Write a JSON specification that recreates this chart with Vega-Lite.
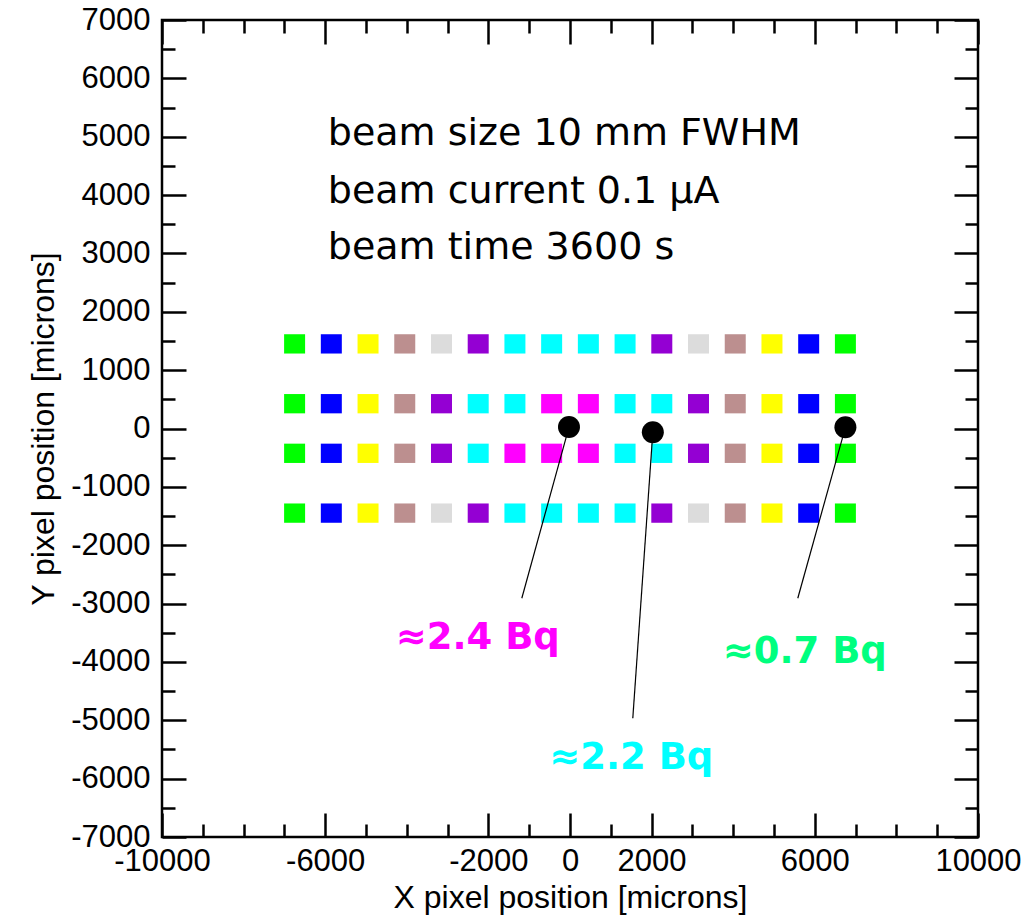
{
  "$schema": "https://vega.github.io/schema/vega-lite/v6.json",
  "width": 816,
  "height": 817,
  "autosize": "none",
  "padding": {"left": 162, "top": 20, "right": 52, "bottom": 80},
  "background": "white",
  "config": {
    "view": {"stroke": "black", "strokeWidth": 2.5},
    "axis": {"grid": false, "domain": false, "tickColor": "black", "tickWidth": 2.5, "labelColor": "black", "titleColor": "black", "labelFont": "Liberation Sans", "titleFont": "Liberation Sans", "labelFontSize": 31, "titleFontSize": 32, "titleFontWeight": "normal", "labelFlush": false, "labelOverlap": false}
  },
  "datasets": {
    "squares": [
      {"x": -6750, "y": 1450, "c": "#00ff00"}, {"x": -5850, "y": 1450, "c": "#0000ff"}, {"x": -4950, "y": 1450, "c": "#ffff00"}, {"x": -4050, "y": 1450, "c": "#bc8f8f"},
      {"x": -3150, "y": 1450, "c": "#dcdcdc"}, {"x": -2250, "y": 1450, "c": "#9400d3"}, {"x": -1350, "y": 1450, "c": "#00ffff"}, {"x": -450, "y": 1450, "c": "#00ffff"},
      {"x": 450, "y": 1450, "c": "#00ffff"}, {"x": 1350, "y": 1450, "c": "#00ffff"}, {"x": 2250, "y": 1450, "c": "#9400d3"}, {"x": 3150, "y": 1450, "c": "#dcdcdc"},
      {"x": 4050, "y": 1450, "c": "#bc8f8f"}, {"x": 4950, "y": 1450, "c": "#ffff00"}, {"x": 5850, "y": 1450, "c": "#0000ff"}, {"x": 6750, "y": 1450, "c": "#00ff00"},
      {"x": -6750, "y": 425, "c": "#00ff00"}, {"x": -5850, "y": 425, "c": "#0000ff"}, {"x": -4950, "y": 425, "c": "#ffff00"}, {"x": -4050, "y": 425, "c": "#bc8f8f"},
      {"x": -3150, "y": 425, "c": "#9400d3"}, {"x": -2250, "y": 425, "c": "#00ffff"}, {"x": -1350, "y": 425, "c": "#00ffff"}, {"x": -450, "y": 425, "c": "#ff00ff"},
      {"x": 450, "y": 425, "c": "#ff00ff"}, {"x": 1350, "y": 425, "c": "#00ffff"}, {"x": 2250, "y": 425, "c": "#00ffff"}, {"x": 3150, "y": 425, "c": "#9400d3"},
      {"x": 4050, "y": 425, "c": "#bc8f8f"}, {"x": 4950, "y": 425, "c": "#ffff00"}, {"x": 5850, "y": 425, "c": "#0000ff"}, {"x": 6750, "y": 425, "c": "#00ff00"},
      {"x": -6750, "y": -425, "c": "#00ff00"}, {"x": -5850, "y": -425, "c": "#0000ff"}, {"x": -4950, "y": -425, "c": "#ffff00"}, {"x": -4050, "y": -425, "c": "#bc8f8f"},
      {"x": -3150, "y": -425, "c": "#9400d3"}, {"x": -2250, "y": -425, "c": "#00ffff"}, {"x": -1350, "y": -425, "c": "#ff00ff"}, {"x": -450, "y": -425, "c": "#ff00ff"},
      {"x": 450, "y": -425, "c": "#ff00ff"}, {"x": 1350, "y": -425, "c": "#00ffff"}, {"x": 2250, "y": -425, "c": "#00ffff"}, {"x": 3150, "y": -425, "c": "#9400d3"},
      {"x": 4050, "y": -425, "c": "#bc8f8f"}, {"x": 4950, "y": -425, "c": "#ffff00"}, {"x": 5850, "y": -425, "c": "#0000ff"}, {"x": 6750, "y": -425, "c": "#00ff00"},
      {"x": -6750, "y": -1450, "c": "#00ff00"}, {"x": -5850, "y": -1450, "c": "#0000ff"}, {"x": -4950, "y": -1450, "c": "#ffff00"}, {"x": -4050, "y": -1450, "c": "#bc8f8f"},
      {"x": -3150, "y": -1450, "c": "#dcdcdc"}, {"x": -2250, "y": -1450, "c": "#9400d3"}, {"x": -1350, "y": -1450, "c": "#00ffff"}, {"x": -450, "y": -1450, "c": "#00ffff"},
      {"x": 450, "y": -1450, "c": "#00ffff"}, {"x": 1350, "y": -1450, "c": "#00ffff"}, {"x": 2250, "y": -1450, "c": "#9400d3"}, {"x": 3150, "y": -1450, "c": "#dcdcdc"},
      {"x": 4050, "y": -1450, "c": "#bc8f8f"}, {"x": 4950, "y": -1450, "c": "#ffff00"}, {"x": 5850, "y": -1450, "c": "#0000ff"}, {"x": 6750, "y": -1450, "c": "#00ff00"}
    ],
    "lines": [
      {"x": -25, "y": 25, "x2": -1181, "y2": -2909},
      {"x": 2030, "y": -65, "x2": 1539, "y2": -4966},
      {"x": 6750, "y": 20, "x2": 5583, "y2": -2909}
    ],
    "dots": [
      {"x": -25, "y": 25},
      {"x": 2030, "y": -65},
      {"x": 6750, "y": 20}
    ],
    "info": [
      {"x": -5936, "y": 4857, "t": "beam size 10 mm FWHM"},
      {"x": -5936, "y": 3862, "t": "beam current 0.1 µA"},
      {"x": -5936, "y": 2902, "t": "beam time 3600 s"}
    ],
    "labels": [
      {"x": -2260, "y": -3784, "t": "≈2.4 Bq", "c": "#ff00ff"},
      {"x": 1502, "y": -5841, "t": "≈2.2 Bq", "c": "#00ffff"},
      {"x": 5755, "y": -4024, "t": "≈0.7 Bq", "c": "#00ff7f"}
    ]
  },
  "resolve": {"axis": {"x": "independent", "y": "independent"}},
  "layer": [
    {
      "data": {"name": "squares"},
      "mark": {"type": "point", "shape": "M-1.05,-0.965H1.05V0.965H-1.05Z", "filled": true, "size": 400, "opacity": 1, "strokeWidth": 0},
      "encoding": {
        "x": {"field": "x", "type": "quantitative", "scale": {"domain": [-10000, 10000], "nice": false, "zero": false},
          "axis": {"orient": "bottom", "values": [-10000, -9000, -8000, -7000, -6000, -5000, -4000, -3000, -2000, -1000, 0, 1000, 2000, 3000, 4000, 5000, 6000, 7000, 8000, 9000, 10000],
            "tickSize": {"condition": {"test": "abs(datum.value) == 10000 || abs(datum.value) == 6000 || abs(datum.value) == 2000 || datum.value == 0", "value": -24}, "value": -13},
            "labelExpr": "(abs(datum.value) == 10000 || abs(datum.value) == 6000 || abs(datum.value) == 2000 || datum.value == 0) ? '' + datum.value : ''",
            "labelPadding": 33, "title": "X pixel position [microns]", "titlePadding": -5}},
        "y": {"field": "y", "type": "quantitative", "scale": {"domain": [-7000, 7000], "nice": false, "zero": false},
          "axis": {"orient": "left", "values": [-7000, -6500, -6000, -5500, -5000, -4500, -4000, -3500, -3000, -2500, -2000, -1500, -1000, -500, 0, 500, 1000, 1500, 2000, 2500, 3000, 3500, 4000, 4500, 5000, 5500, 6000, 6500, 7000],
            "tickSize": {"condition": {"test": "datum.value % 1000 == 0", "value": -24}, "value": -13},
            "labelExpr": "datum.value % 1000 == 0 ? '' + datum.value : ''",
            "labelPadding": 36, "title": "Y pixel position [microns]", "titlePadding": 10}},
        "color": {"field": "c", "type": "nominal", "scale": null, "legend": null}
      }
    },
    {
      "data": {"name": "lines"},
      "mark": {"type": "rule", "color": "black", "strokeWidth": 1.2},
      "encoding": {
        "x": {"field": "x", "type": "quantitative", "scale": {"domain": [-10000, 10000], "nice": false, "zero": false},
          "axis": {"orient": "top", "values": [-10000, -9000, -8000, -7000, -6000, -5000, -4000, -3000, -2000, -1000, 0, 1000, 2000, 3000, 4000, 5000, 6000, 7000, 8000, 9000, 10000],
            "tickSize": {"condition": {"test": "abs(datum.value) == 10000 || abs(datum.value) == 6000 || abs(datum.value) == 2000 || datum.value == 0", "value": -24}, "value": -13},
            "labels": false, "title": null}},
        "y": {"field": "y", "type": "quantitative", "scale": {"domain": [-7000, 7000], "nice": false, "zero": false},
          "axis": {"orient": "right", "values": [-7000, -6500, -6000, -5500, -5000, -4500, -4000, -3500, -3000, -2500, -2000, -1500, -1000, -500, 0, 500, 1000, 1500, 2000, 2500, 3000, 3500, 4000, 4500, 5000, 5500, 6000, 6500, 7000],
            "tickSize": {"condition": {"test": "datum.value % 1000 == 0", "value": -24}, "value": -13},
            "labels": false, "title": null}},
        "x2": {"field": "x2"},
        "y2": {"field": "y2"}
      }
    },
    {
      "data": {"name": "dots"},
      "mark": {"type": "point", "shape": "circle", "filled": true, "size": 484, "color": "black", "opacity": 1, "strokeWidth": 0},
      "encoding": {
        "x": {"field": "x", "type": "quantitative", "axis": null},
        "y": {"field": "y", "type": "quantitative", "axis": null}
      }
    },
    {
      "data": {"name": "info"},
      "mark": {"type": "text", "font": "DejaVu Sans", "fontSize": 38, "align": "left", "baseline": "alphabetic", "color": "black"},
      "encoding": {
        "x": {"field": "x", "type": "quantitative", "axis": null},
        "y": {"field": "y", "type": "quantitative", "axis": null},
        "text": {"field": "t"}
      }
    },
    {
      "data": {"name": "labels"},
      "mark": {"type": "text", "font": "DejaVu Sans", "fontSize": 37, "fontWeight": "bold", "align": "center", "baseline": "alphabetic"},
      "encoding": {
        "x": {"field": "x", "type": "quantitative", "axis": null},
        "y": {"field": "y", "type": "quantitative", "axis": null},
        "text": {"field": "t"},
        "color": {"field": "c", "type": "nominal", "scale": null, "legend": null}
      }
    }
  ]
}
